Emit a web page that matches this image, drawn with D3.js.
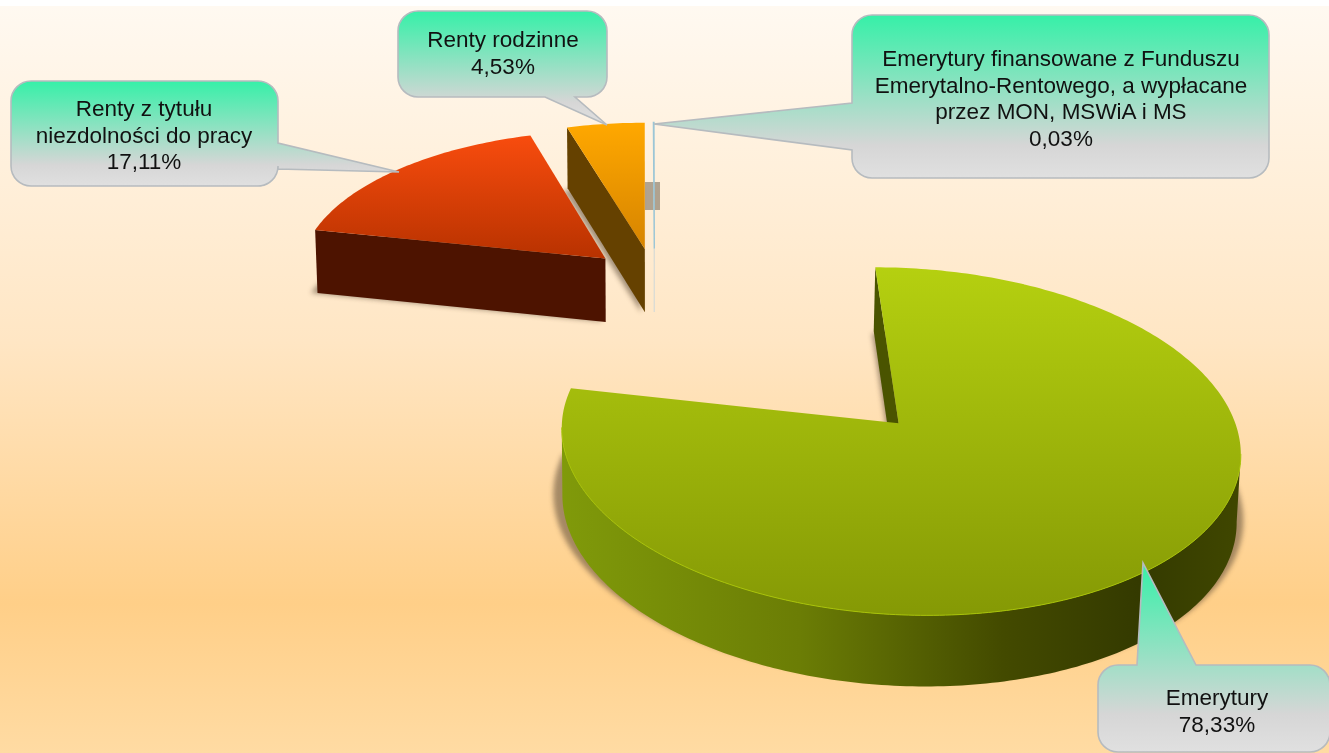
<!DOCTYPE html>
<html>
<head>
<meta charset="utf-8">
<script src="https://d3js.org/d3.v7.min.js"></script>
<style>
  body { margin: 0; background: #fff; }
  svg { display: block; }
  text { font-family: "Liberation Sans", Arial, sans-serif; font-size: 22.5px; fill: #111; text-anchor: middle; }
</style>
</head>
<body>
<svg id="chart" width="1329" height="753"></svg>
<script>
const categories = [
  "Emerytury",
  "Renty z tytułu niezdolności do pracy",
  "Renty rodzinne",
  "Emerytury finansowane z Funduszu Emerytalno-Rentowego, a wypłacane przez MON, MSWiA i MS",
];
const values = [78.33, 17.11, 4.53, 0.03];
const valueLabels = ["78,33%", "17,11%", "4,53%", "0,03%"];
const explodeX = [1.15, 0.22, 0.22, 0.22];
const explodeU = [1.175, 0.22, 0.22, 0.22];

// label boxes: wrapped lines, box, pointer base on one side and tip
const labelLines = [
  ["Emerytury"],
  ["Renty z tytułu", "niezdolności do pracy"],
  ["Renty rodzinne"],
  ["Emerytury finansowane z Funduszu", "Emerytalno-Rentowego, a wypłacane", "przez MON, MSWiA i MS"],
];
const labelBoxes = [
  { x: 1098, y: 665, w: 232, h: 87, side: "top", a: 1137, b: 1196, tip: [1143, 563], cx: 1217, top: 697 },
  { x: 11, y: 81, w: 267, h: 105, side: "right", a: 143, b: 169, tip: [399, 172], cx: 144, top: 108 },
  { x: 398, y: 11, w: 209, h: 86, side: "bottom", a: 545, b: 575, tip: [607, 125], cx: 503, top: 39 },
  { x: 852, y: 15, w: 417, h: 163, side: "left", a: 103, b: 150, tip: [654, 124], cx: 1061, top: 58 },
];

const svg = d3.select("#chart");
const defs = svg.append("defs");

const makeGradient = (id, stops, attrs) => {
  const g = defs.append("linearGradient").attr("id", id);
  Object.entries(attrs).forEach(([k, v]) => g.attr(k, v));
  stops.forEach(([o, c]) => g.append("stop").attr("offset", o).attr("stop-color", c));
};
const vertical = { x1: 0, y1: 0, x2: 0, y2: 1 };

makeGradient("bg", [[0, "#fff9f1"], [0.45, "#ffe6c4"], [0.8, "#ffcf88"], [1, "#ffdba3"]], vertical);
makeGradient("top0", [[0, "#b5d010"], [1, "#859905"]], vertical);
makeGradient("top1", [[0, "#f84c0e"], [1, "#b83200"]], vertical);
makeGradient("top2", [[0, "#ffa800"], [1, "#d68400"]], vertical);
makeGradient("wall0", [[0, "#809a0a"], [0.35, "#6b7d05"], [0.65, "#434a00"], [0.85, "#343a00"], [1, "#404700"]], { x1: 0, y1: 0, x2: 1, y2: 0 });
makeGradient("callout", [[0, "#36f0a8"], [0.8, "#d6d6d6"], [1, "#e0e0e0"]], vertical);

defs.append("filter").attr("id", "blur")
  .attr("x", "-10%").attr("y", "-10%").attr("width", "120%").attr("height", "120%")
  .append("feGaussianBlur").attr("stdDeviation", 2.5);

// background
svg.append("rect").attr("x", 0).attr("y", 6).attr("width", 1329).attr("height", 747).attr("fill", "url(#bg)");

// the stray shadow block beside the sliver
svg.append("rect")
  .attr("x", 645).attr("y", 182).attr("width", 15).attr("height", 28)
  .attr("fill", "#7c705f").attr("fill-opacity", 0.6);

// perspective of the pie plane
const vanishX = 650, horizonY = -1241, focalX = 3255, focalY = 16089;
const originX = 0.0145, originU = 10.58;
const wallA = 31.4, wallB = 344;

const project = ([X, U]) => [vanishX + (focalX * X) / U, horizonY + focalY / U];
const dropWall = ([X, U]) => {
  const [x, y] = project([X, U]);
  return [vanishX + (x - vanishX) * 0.993, y + wallA + wallB / U];
};

const pie = d3.pie().sort(null).value((d) => d);
const slices = pie(values);
const line = d3.line();

const faceColors = ["#4a5400", "#4d1300", "#654100", "#e4e2d8"];

const shadowLayer = svg.append("g").attr("filter", "url(#blur)").attr("fill", "#5b4a35").attr("opacity", 0.55);
const sliceLayer = svg.append("g");

slices.forEach((s, i) => {
  const mid = (s.startAngle + s.endAngle) / 2;
  const cX = originX + explodeX[i] * Math.sin(mid);
  const cU = originU + explodeU[i] * Math.cos(mid);
  const apex = [cX, cU];
  const rim = (t) => [cX + Math.sin(t), cU + Math.cos(t)];

  const n = Math.max(2, Math.ceil((s.endAngle - s.startAngle) * 60));
  const angles = d3.range(n + 1).map((k) => s.startAngle + ((s.endAngle - s.startAngle) * k) / n);
  const arcWorld = angles.map(rim);
  const topPath = line([apex, ...arcWorld].map(project)) + "Z";

  const g = sliceLayer.append("g");

  // cast shadow: the top face pushed down and to the left, the big slice also spreads sideways
  if (i === 0) {
    const px = project(apex)[0];
    shadowLayer.append("path").attr("d", topPath)
      .attr("transform", `translate(${px - 3},66) scale(1.016,1) translate(${-px},0)`);
  } else if (i < 3) {
    shadowLayer.append("path").attr("d", topPath).attr("transform", "translate(-4,63)");
  }

  // radial side faces, kept only if they face the viewer
  [[s.startAngle, 1], [s.endAngle, -1]].forEach(([t, sign]) => {
    const quad = [project(apex), project(rim(t)), dropWall(rim(t)), dropWall(apex)];
    if (d3.polygonArea(quad) * sign > 0) {
      g.append("path").attr("d", line(quad) + "Z").attr("fill", faceColors[i]);
    }
  });

  // outer wall: the run of rim segments going right to left on screen
  const run = [];
  arcWorld.forEach((p, k) => {
    if (k === 0) return;
    if (project(p)[0] < project(arcWorld[k - 1])[0]) {
      if (!run.length) run.push(arcWorld[k - 1]);
      run.push(p);
    }
  });
  if (run.length) {
    const wall = [...run.map(project), ...run.slice().reverse().map(dropWall)];
    g.append("path").attr("d", line(wall) + "Z").attr("fill", `url(#wall${i})`);
  }

  if (i < 3) {
    g.append("path").attr("d", topPath).attr("fill", `url(#top${i})`);
    if (run.length) {
      g.append("path").attr("d", line(run.map(project)))
        .attr("fill", "none").attr("stroke", "#a8c408").attr("stroke-width", 1);
    }
  } else {
    // the sliver is thinner than a pixel, only its outline shows
    g.append("path").attr("d", topPath).attr("fill", "none").attr("stroke", "#9cc6d6").attr("stroke-width", 1.4);
    g.append("path").attr("d", line([project(apex), dropWall(apex)]))
      .attr("fill", "none").attr("stroke", "#dcdcd4").attr("stroke-width", 1.4);
  }
});

// callouts
const calloutPath = (b) => {
  const r = 20;
  const p = d3.path();
  const x2 = b.x + b.w, y2 = b.y + b.h;
  p.moveTo(b.x + r, b.y);
  if (b.side === "top") { p.lineTo(b.a, b.y); p.lineTo(b.tip[0], b.tip[1]); p.lineTo(b.b, b.y); }
  p.lineTo(x2 - r, b.y);
  p.arcTo(x2, b.y, x2, b.y + r, r);
  if (b.side === "right") { p.lineTo(x2, b.a); p.lineTo(b.tip[0], b.tip[1]); p.lineTo(x2, b.b); }
  p.lineTo(x2, y2 - r);
  p.arcTo(x2, y2, x2 - r, y2, r);
  if (b.side === "bottom") { p.lineTo(b.b, y2); p.lineTo(b.tip[0], b.tip[1]); p.lineTo(b.a, y2); }
  p.lineTo(b.x + r, y2);
  p.arcTo(b.x, y2, b.x, y2 - r, r);
  if (b.side === "left") { p.lineTo(b.x, b.b); p.lineTo(b.tip[0], b.tip[1]); p.lineTo(b.x, b.a); }
  p.lineTo(b.x, b.y + r);
  p.arcTo(b.x, b.y, b.x + r, b.y, r);
  p.closePath();
  return p.toString();
};

const callouts = svg.append("g").selectAll("g")
  .data(categories)
  .enter()
  .append("g");

callouts.append("path")
  .attr("d", (d, i) => calloutPath(labelBoxes[i]))
  .attr("fill", "url(#callout)")
  .attr("stroke", "#b6bbbf")
  .attr("stroke-width", 1.6);

callouts.each(function (d, i) {
  const b = labelBoxes[i];
  [...labelLines[i], valueLabels[i]].forEach((t, k) => {
    d3.select(this).append("text")
      .attr("x", b.cx)
      .attr("y", b.top + k * 26.6 + 8)
      .text(t);
  });
});
</script>
</body>
</html>
